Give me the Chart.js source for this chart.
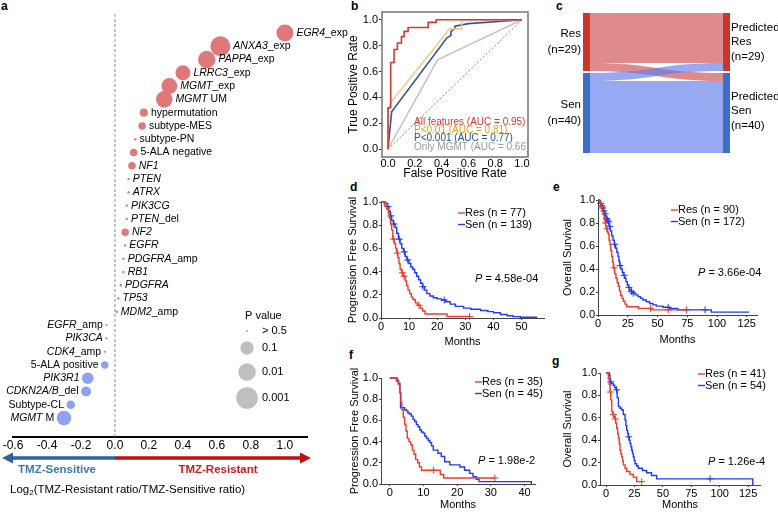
<!DOCTYPE html>
<html>
<head>
<meta charset="utf-8">
<script src="https://cdn.jsdelivr.net/npm/chart.js@4.4.0/dist/chart.umd.min.js"></script>
<style>
  body { margin: 0; width: 778px; height: 512px; position: relative; background: #fff; overflow: hidden;
         font-family: 'Liberation Sans', Arial, Helvetica, sans-serif; }
  canvas { position: absolute; }
  .lab { position: absolute; font-weight: bold; font-size: 12px; line-height: 12px; }
</style>
</head>
<body>
<div class="lab" style="left:1px;top:0px">a</div>
<div class="lab" style="left:351px;top:0px">b</div>
<div class="lab" style="left:556px;top:0px">c</div>
<div class="lab" style="left:350px;top:181px">d</div>
<div class="lab" style="left:553px;top:181px">e</div>
<div class="lab" style="left:349px;top:349px">f</div>
<div class="lab" style="left:552px;top:355px">g</div>

<canvas id="cA"></canvas>
<canvas id="cB"></canvas>
<canvas id="cC"></canvas>
<canvas id="cD"></canvas>
<canvas id="cE"></canvas>
<canvas id="cF"></canvas>
<canvas id="cG"></canvas>

<script>
// ---- panel a: features (top to bottom), log2 ratio and p value ----
const featLabels = ['*EGR4*_exp', '*ANXA3*_exp', '*PAPPA*_exp', '*LRRC3*_exp', '*MGMT*_exp', '*MGMT* UM',
  'hypermutation', 'subtype-MES', 'subtype-PN', '5-ALA negative', '*NF1*', '*PTEN*', '*ATRX*', '*PIK3CG*',
  '*PTEN*_del', '*NF2*', '*EGFR*', '*PDGFRA*_amp', '*RB1*', '*PDGFRA*', '*TP53*', '*MDM2*_amp',
  '*EGFR*_amp', '*PIK3CA*', '*CDK4*_amp', '5-ALA positive', '*PIK3R1*', '*CDKN2A/B*_del', 'Subtype-CL', '*MGMT* M'];
const featLog2Ratio = [1.0, 0.62, 0.54, 0.40, 0.32, 0.29, 0.17, 0.16, 0.12, 0.11, 0.10, 0.08, 0.08, 0.07,
  0.07, 0.06, 0.06, 0.05, 0.05, 0.035, 0.02, 0.01, -0.05, -0.05, -0.06, -0.06, -0.16, -0.17, -0.26, -0.30];
const featPValue = [0.014, 0.0025, 0.011, 0.042, 0.024, 0.017, 0.21, 0.23, 0.8, 0.23, 0.23, 0.9, 0.9, 0.9,
  0.9, 0.23, 0.9, 0.9, 0.9, 0.9, 0.9, 0.9, 0.9, 0.9, 0.9, 0.23, 0.13, 0.16, 0.2, 0.052];
const aTicks = [-0.6, -0.4, -0.2, 0, 0.2, 0.4, 0.6, 0.8, 1.0];
const pLegendLabels = ['> 0.5', '0.1', '0.01', '0.001'];
const pLegendValues = [0.9, 0.1, 0.01, 0.001];

// ---- panel b: ROC curves ----
const rocAllFpr = [0, 0, 0.02, 0.02, 0.045, 0.045, 0.07, 0.07, 0.1, 0.1, 0.12, 0.12, 0.15, 0.15, 0.30, 0.30, 0.36, 0.36, 1];
const rocAllTpr = [0, 0.32, 0.32, 0.67, 0.67, 0.77, 0.77, 0.82, 0.82, 0.87, 0.87, 0.91, 0.91, 0.94, 0.94, 0.98, 0.98, 1, 1];
const rocP01Fpr = [0, 0, 0.02, 0.46, 0.55, 0.55, 1];
const rocP01Tpr = [0, 0.30, 0.36, 0.93, 0.93, 1, 1];
const rocP001Fpr = [0, 0.027, 0.44, 0.47, 0.47, 0.50, 0.50, 0.60, 1];
const rocP001Tpr = [0, 0.29, 0.86, 0.88, 0.91, 0.93, 0.95, 0.97, 1];
const rocMgmtFpr = [0, 0.37, 1];
const rocMgmtTpr = [0, 0.69, 1];
const rocLegend = ['All features (AUC = 0.95)', 'P<0.01 (AUC = 0.81)', 'P<0.001 (AUC = 0.77)', 'Only MGMT (AUC = 0.66)'];
const rateTicks = [0, 0.2, 0.4, 0.6, 0.8, 1.0];

// ---- panel c: sankey ----
const sankeyLeft = ['Res', 'Sen'];
const sankeyLeftN = [29, 40];
const sankeyRight = ['Predicted', 'Predicted'];
const sankeyRightSub = ['Res', 'Sen'];
const sankeyRightN = [29, 40];
const sankeyFlows = [[0, 0, 25], [0, 1, 4], [1, 0, 4], [1, 1, 36]];

// ---- panel d: PFS ----
const dResT = [0, 1.2, 2.0, 2.6, 3.0, 3.4, 3.8, 4.2, 4.7, 5.2, 5.6, 6.0, 6.4, 6.8, 7.3, 7.9, 8.6, 9.1, 9.6, 10.2, 10.8, 11.4, 12.2, 13.0, 13.9, 14.8, 15.7, 23.5, 31.5];
const dResS = [1, 0.97, 0.94, 0.90, 0.86, 0.81, 0.76, 0.68, 0.64, 0.60, 0.56, 0.52, 0.47, 0.42, 0.39, 0.36, 0.32, 0.28, 0.24, 0.21, 0.18, 0.16, 0.13, 0.11, 0.085, 0.06, 0.035, 0.013, 0.013];
const dResCT = [4.4, 5.8, 7.6, 8.2, 13.5, 31.5];
const dResCS = [0.68, 0.56, 0.39, 0.36, 0.11, 0.013];
const dSenT = [0, 1.5, 2.2, 2.8, 3.3, 3.8, 4.4, 5.0, 5.6, 6.2, 6.8, 7.4, 8.0, 8.6, 9.2, 9.9, 10.6, 11.3, 12.0, 12.7, 13.4, 14.1, 14.8, 15.5, 16.3, 17.4, 18.6, 20.0, 21.5, 23.0, 24.6, 26.5, 29.4, 32.0, 35.4, 38.0, 40.0, 42.5, 44.9, 47.0, 49.6, 55.6];
const dSenS = [1, 0.99, 0.96, 0.92, 0.88, 0.84, 0.81, 0.78, 0.73, 0.68, 0.64, 0.60, 0.57, 0.53, 0.50, 0.47, 0.44, 0.42, 0.39, 0.36, 0.33, 0.30, 0.27, 0.24, 0.21, 0.19, 0.175, 0.165, 0.155, 0.14, 0.12, 0.10, 0.085, 0.075, 0.065, 0.055, 0.045, 0.03, 0.02, 0.012, 0.006, 0.006];
const dSenCT = [2.5, 3.5, 4.6, 6.5, 8.3, 9.5, 14.9, 22.5];
const dSenCS = [0.96, 0.88, 0.81, 0.68, 0.57, 0.50, 0.27, 0.155];

// ---- panel e: OS ----
const eResT = [0, 1.5, 2.5, 3.1, 3.8, 4.5, 5.2, 5.9, 6.6, 7.3, 8.0, 8.7, 9.3, 10.0, 10.7, 11.5, 12.2, 12.9, 14.0, 15.1, 16.1, 17.1, 18.0, 19.0, 20.2, 21.3, 22.7, 24.1, 33.9, 45, 74.5];
const eResS = [1, 0.98, 0.96, 0.94, 0.90, 0.87, 0.83, 0.80, 0.77, 0.75, 0.72, 0.70, 0.65, 0.61, 0.56, 0.51, 0.46, 0.41, 0.36, 0.32, 0.28, 0.25, 0.21, 0.17, 0.145, 0.12, 0.095, 0.072, 0.058, 0.045, 0.045];
const eResCT = [3.5, 6.2, 7.5, 13.5, 44, 59, 74.5];
const eResCS = [0.94, 0.80, 0.75, 0.41, 0.058, 0.045, 0.045];
const eSenT = [0, 1.0, 1.9, 2.8, 3.6, 4.6, 5.6, 6.3, 7.0, 7.7, 8.4, 9.4, 10.4, 11.5, 12.6, 13.7, 14.8, 15.8, 16.8, 17.5, 18.2, 19.3, 20.4, 21.4, 22.4, 23.5, 24.6, 25.6, 26.6, 27.8, 28.9, 31.2, 33.6, 35.7, 37.8, 40.6, 43.4, 46.2, 49.0, 54.6, 60.2, 67, 95.2, 127];
const eSenS = [1, 0.985, 0.97, 0.95, 0.93, 0.905, 0.88, 0.86, 0.84, 0.825, 0.81, 0.77, 0.73, 0.69, 0.65, 0.615, 0.58, 0.545, 0.51, 0.47, 0.43, 0.40, 0.37, 0.345, 0.32, 0.29, 0.26, 0.24, 0.22, 0.205, 0.19, 0.175, 0.16, 0.145, 0.13, 0.115, 0.10, 0.088, 0.077, 0.067, 0.058, 0.045, 0.025, 0.025];
const eSenCT = [2.2, 3.0, 4.0, 5.0, 6.0, 7.3, 8.0, 9.0, 10.0, 14.0, 18.5, 22.0, 26.0, 28.0, 29.5, 59, 90];
const eSenCS = [0.97, 0.95, 0.93, 0.905, 0.88, 0.84, 0.825, 0.81, 0.77, 0.615, 0.43, 0.345, 0.24, 0.205, 0.19, 0.067, 0.045];

// ---- panel f: PFS validation ----
const fResT = [0, 2.0, 2.5, 3.0, 3.3, 3.6, 4.0, 4.4, 4.8, 5.2, 5.7, 6.2, 6.7, 7.2, 7.7, 8.3, 8.8, 9.4, 15.0, 16.0, 31.2];
const fResS = [1, 0.97, 0.94, 0.86, 0.77, 0.70, 0.63, 0.56, 0.50, 0.43, 0.40, 0.37, 0.32, 0.28, 0.23, 0.20, 0.16, 0.13, 0.09, 0.057, 0.057];
const fResCT = [13.0, 31.2];
const fResCS = [0.13, 0.057];
const fSenT = [0, 2.2, 2.6, 3.0, 3.2, 4.4, 4.9, 5.4, 5.9, 6.4, 6.9, 7.4, 7.9, 8.4, 8.9, 9.4, 9.9, 10.4, 10.9, 11.4, 11.9, 12.4, 12.9, 14.3, 15.3, 16.3, 17.8, 20.8, 22.2, 23.7, 24.7, 25.7, 26.5, 42];
const fSenS = [1, 0.98, 0.95, 0.86, 0.72, 0.70, 0.69, 0.67, 0.66, 0.64, 0.61, 0.59, 0.56, 0.54, 0.51, 0.49, 0.48, 0.45, 0.43, 0.41, 0.39, 0.36, 0.32, 0.29, 0.26, 0.21, 0.18, 0.16, 0.13, 0.10, 0.07, 0.045, 0.022, 0];
const fSenCT = [];
const fSenCS = [];

// ---- panel g: OS validation ----
const gResT = [0, 2.0, 2.8, 3.5, 4.2, 5.0, 5.8, 6.8, 7.9, 8.6, 9.4, 10.2, 10.9, 11.6, 12.3, 13.0, 13.8, 14.5, 15.2, 16.7, 18.2, 21, 24, 27, 31.4];
const gResS = [1, 0.95, 0.90, 0.83, 0.76, 0.66, 0.63, 0.61, 0.59, 0.55, 0.505, 0.46, 0.42, 0.37, 0.31, 0.28, 0.25, 0.215, 0.18, 0.15, 0.12, 0.095, 0.07, 0.03, 0.03];
const gResCT = [3.8, 6.3, 8.2, 31.4];
const gResCS = [0.83, 0.63, 0.59, 0.03];
const gSenT = [0, 3.0, 3.5, 5.0, 6.4, 7.6, 8.8, 9.8, 10.9, 12.3, 13.8, 15.2, 16.7, 17.5, 18.2, 19.0, 19.6, 20.4, 21.1, 21.9, 22.6, 23.3, 24.0, 24.8, 25.5, 27.0, 28.4, 32, 35.7, 40, 44.5, 129];
const gSenS = [1, 0.98, 0.92, 0.905, 0.89, 0.87, 0.85, 0.78, 0.70, 0.685, 0.67, 0.63, 0.58, 0.53, 0.49, 0.46, 0.43, 0.40, 0.37, 0.34, 0.31, 0.28, 0.25, 0.22, 0.19, 0.17, 0.15, 0.13, 0.11, 0.085, 0.055, 0];
const gSenCT = [4.2, 9.3, 20.0, 91.5];
const gSenCS = [0.92, 0.85, 0.43, 0.055];

const survTicks = [0, 0.2, 0.4, 0.6, 0.8, 1.0];

// ---------------------------------------------------------------
const FONT = "'Liberation Sans', Arial, Helvetica, sans-serif";
Chart.defaults.font.family = FONT;
Chart.defaults.font.size = 11;
Chart.defaults.color = '#000';
Chart.defaults.animation = false;
Chart.defaults.responsive = false;
Chart.defaults.events = [];
Chart.defaults.plugins.legend.display = false;
Chart.defaults.plugins.tooltip.enabled = false;

const RED = '#ec3d2a';
const BLUE = '#1e3cf5';

function place(id, l, t, r, b) {
    const c = document.getElementById(id);
    c.width = r - l;
    c.height = b - t;
    c.style.left = l + 'px';
    c.style.top = t + 'px';
    c.style.width = (r - l) + 'px';
    c.style.height = (b - t) + 'px';
    return c;
}

function fixTicks(vals) {
    return scale => { scale.ticks = vals.map(v => ({ value: v })); };
}

function pts(xs, ys) {
    return xs.map((x, i) => ({ x: x, y: ys[i] }));
}

// text with *italic* segments
function richText(ctx, str, x, y, align, font) {
    const parts = str.split('*');
    const fonts = parts.map((p, i) => (i % 2 ? 'italic ' : '') + font);
    const widths = parts.map((p, i) => { ctx.font = fonts[i]; return ctx.measureText(p).width; });
    const total = widths.reduce((a, b) => a + b, 0);
    let cx = align === 'right' ? x - total : (align === 'center' ? x - total / 2 : x);
    ctx.textAlign = 'left';
    parts.forEach((p, i) => { ctx.font = fonts[i]; ctx.fillText(p, cx, y); cx += widths[i]; });
}

// bubble radius from p value, anchored on the legend sizes
const sizeKnots = [[0.3, 1], [1, 6.7], [2, 8.8], [3, 10.8]];
function bubbleR(p) {
    const L = -Math.log10(p);
    if (L < 0.3) return 1.2;
    for (let i = 1; i < sizeKnots.length; i++) {
        if (L <= sizeKnots[i][0]) {
            const [l0, r0] = sizeKnots[i - 1], [l1, r1] = sizeKnots[i];
            return r0 + (r1 - r0) * (L - l0) / (l1 - l0);
        }
    }
    return sizeKnots[sizeKnots.length - 1][1];
}

// ===== Panel a =====
const BUB_RED = '#e0787a';
const BUB_BLUE = '#8ea2f0';

const bubbleExtras = {
    id: 'bubbleExtras',
    beforeDatasetsDraw(chart) {
        const { ctx, chartArea, scales: { x } } = chart;
        const x0 = x.getPixelForValue(0);
        ctx.save();
        ctx.strokeStyle = '#8a8a8a';
        ctx.lineWidth = 1;
        ctx.setLineDash([3, 2]);
        ctx.beginPath();
        ctx.moveTo(x0, chartArea.top);
        ctx.lineTo(x0, chartArea.bottom);
        ctx.stroke();
        ctx.restore();
    },
    afterDraw(chart) {
        const { ctx, chartArea, scales: { x } } = chart;
        const meta = chart.getDatasetMeta(0);
        ctx.save();
        ctx.fillStyle = '#000';
        ctx.textBaseline = 'middle';
        meta.data.forEach((el, i) => {
            const r = bubbleR(featPValue[i]);
            if (featLog2Ratio[i] >= 0) {
                richText(ctx, featLabels[i], el.x + r + 3, el.y, 'left', '10.5px ' + FONT);
            } else {
                richText(ctx, featLabels[i], el.x - r - 2.5, el.y, 'right', '10.5px ' + FONT);
            }
        });

        // size legend
        ctx.font = '11px ' + FONT;
        ctx.textAlign = 'left';
        ctx.fillText('P value', 245, 316);
        const ly = [331, 348, 372, 398];
        pLegendValues.forEach((p, i) => {
            ctx.fillStyle = '#bfbfbf';
            ctx.beginPath();
            ctx.arc(247, ly[i], bubbleR(p), 0, Math.PI * 2);
            ctx.fill();
            ctx.fillStyle = '#000';
            ctx.fillText(pLegendLabels[i], 262, ly[i]);
        });

        // direction arrows
        const x0 = x.getPixelForValue(0);
        const ay = 458;
        function arrow(from, to, col) {
            const dir = Math.sign(to - from);
            ctx.strokeStyle = col;
            ctx.fillStyle = col;
            ctx.lineWidth = 3.5;
            ctx.beginPath();
            ctx.moveTo(from, ay);
            ctx.lineTo(to - dir * 8, ay);
            ctx.stroke();
            ctx.beginPath();
            ctx.moveTo(to, ay);
            ctx.lineTo(to - dir * 11, ay - 5.5);
            ctx.lineTo(to - dir * 11, ay + 5.5);
            ctx.closePath();
            ctx.fill();
        }
        arrow(x0, chartArea.left - 11, '#2d6397');
        arrow(x0, chartArea.right + 4, '#c40d0d');

        ctx.font = 'bold 11.5px ' + FONT;
        ctx.textAlign = 'center';
        ctx.fillStyle = '#3b78b5';
        ctx.fillText('TMZ-Sensitive', 57, 470);
        ctx.fillStyle = '#d4191c';
        ctx.fillText('TMZ-Resistant', 218, 470);

        ctx.fillStyle = '#000';
        ctx.textAlign = 'left';
        ctx.font = '11.5px ' + FONT;
        let tx = 10;
        ctx.fillText('Log', tx, 490);
        tx += ctx.measureText('Log').width;
        ctx.font = '8px ' + FONT;
        ctx.fillText('2', tx, 493);
        tx += ctx.measureText('2').width;
        ctx.font = '11.5px ' + FONT;
        ctx.fillText('(TMZ-Resistant ratio/TMZ-Sensitive ratio)', tx, 490);
        ctx.restore();
    }
};

new Chart(place('cA', 0, 0, 366, 512), {
    type: 'bubble',
    data: {
        datasets: [{
            data: featLog2Ratio.map((v, i) => ({ x: v, y: i, r: bubbleR(featPValue[i]) })),
            backgroundColor: featLog2Ratio.map(v => v >= 0 ? BUB_RED : BUB_BLUE),
            borderWidth: 0,
            clip: false
        }]
    },
    options: {
        layout: { padding: { left: 13, right: 59, top: 14, bottom: 0 } },
        scales: {
            x: {
                type: 'linear', min: -0.6, max: 1.13,
                afterBuildTicks: fixTicks(aTicks),
                afterFit: s => { s.height = 75; },
                ticks: { font: { size: 12 }, padding: 1, maxRotation: 0, autoSkip: false, callback: v => v.toFixed(1) },
                grid: { display: false, drawTicks: false },
                border: { display: true, color: '#000', width: 2 }
            },
            y: { type: 'linear', min: -1.43, max: 30.43, reverse: true, display: false }
        }
    },
    plugins: [bubbleExtras]
});

// ===== Panel b =====
const rocExtras = {
    id: 'rocExtras',
    afterDraw(chart, args, o) {
        const { ctx, chartArea } = chart;
        ctx.save();
        ctx.strokeStyle = '#8a8a8a';
        ctx.lineWidth = 1.8;
        ctx.strokeRect(chartArea.left, chartArea.top, chartArea.right - chartArea.left, chartArea.bottom - chartArea.top);
        ctx.font = '10px ' + FONT;
        ctx.textBaseline = 'middle';
        ctx.textAlign = 'left';
        const cols = ['#d6372c', '#d9a21b', '#2a4d9a', '#9a9a9a'];
        rocLegend.forEach((t, i) => {
            ctx.fillStyle = cols[i];
            ctx.fillText(t, 414 - o.ox, 122 + i * 8.3 - o.oy);
        });
        ctx.restore();
    }
};

function rocLine(fx, ty, col, w) {
    return { data: pts(fx, ty), borderColor: col, borderWidth: w, pointRadius: 0, clip: false };
}

new Chart(place('cB', 346, 0, 548, 181), {
    type: 'line',
    data: {
        datasets: [
            rocLine(rocAllFpr, rocAllTpr, '#cd3b33', 1.6),
            rocLine(rocP01Fpr, rocP01Tpr, '#f3c98b', 1.6),
            rocLine(rocP001Fpr, rocP001Tpr, '#2f55a4', 1.6),
            rocLine(rocMgmtFpr, rocMgmtTpr, '#c4c4c4', 1.6),
            Object.assign(rocLine([0, 1], [0, 1], '#555', 0.7), { borderDash: [2, 2] })
        ]
    },
    options: {
        layout: { padding: { left: 0, top: 12, right: 20, bottom: 0 } },
        scales: {
            x: {
                type: 'linear', min: -0.045, max: 1.045,
                afterBuildTicks: fixTicks(rateTicks),
                afterFit: s => { s.height = 24; },
                ticks: { padding: 0, maxRotation: 0, autoSkip: false, callback: v => v.toFixed(1) },
                grid: { display: true, drawOnChartArea: false, drawTicks: false },
                border: { display: false },
                title: { display: true, text: 'False Positive Rate', font: { size: 12 }, padding: 0 }
            },
            y: {
                type: 'linear', min: -0.06, max: 1.06,
                afterBuildTicks: fixTicks(rateTicks),
                afterFit: s => { s.width = 36; },
                ticks: { padding: 1, autoSkip: false, callback: v => v.toFixed(1) },
                grid: { display: true, drawOnChartArea: false, tickLength: 3, color: '#333' },
                border: { display: false },
                title: { display: true, text: 'True Positive Rate', font: { size: 12 }, padding: 0 }
            }
        },
        plugins: { rocExtras: { ox: 346, oy: 0 } }
    },
    plugins: [rocExtras]
});

// ===== Panel c =====
const NODE_W = 0.048;
const sankeyPlugin = {
    id: 'sankey',
    afterDraw(chart, args, o) {
        const { ctx, scales: { x, y } } = chart;
        const gap = 1;
        let pos = 0;
        const leftNodes = sankeyLeftN.map(n => { const s = { a: pos, b: pos + n }; pos += n + gap; return s; });
        pos = 0;
        const rightNodes = sankeyRightN.map(n => { const s = { a: pos, b: pos + n }; pos += n + gap; return s; });
        const lc = leftNodes.map(n => n.a);
        const rc = rightNodes.map(n => n.a);
        const xL = x.getPixelForValue(NODE_W), xR = x.getPixelForValue(1 - NODE_W);
        const mid = (xL + xR) / 2;
        ctx.save();
        sankeyFlows.forEach(([s, d, v]) => {
            const l0 = y.getPixelForValue(lc[s]), l1 = y.getPixelForValue(lc[s] + v);
            const r0 = y.getPixelForValue(rc[d]), r1 = y.getPixelForValue(rc[d] + v);
            lc[s] += v;
            rc[d] += v;
            ctx.fillStyle = s === 0 ? 'rgba(200,55,55,0.58)' : 'rgba(95,125,235,0.66)';
            ctx.beginPath();
            ctx.moveTo(xL, l0);
            ctx.bezierCurveTo(mid, l0, mid, r0, xR, r0);
            ctx.lineTo(xR, r1);
            ctx.bezierCurveTo(mid, r1, mid, l1, xL, l1);
            ctx.closePath();
            ctx.fill();
        });
        const nodeCols = ['#c9372c', '#3e6fc6'];
        leftNodes.forEach((n, i) => {
            ctx.fillStyle = nodeCols[i];
            ctx.fillRect(x.getPixelForValue(0), y.getPixelForValue(n.a), xL - x.getPixelForValue(0), y.getPixelForValue(n.b) - y.getPixelForValue(n.a));
        });
        rightNodes.forEach((n, i) => {
            ctx.fillStyle = nodeCols[i];
            ctx.fillRect(xR, y.getPixelForValue(n.a), x.getPixelForValue(1) - xR, y.getPixelForValue(n.b) - y.getPixelForValue(n.a));
        });
        ctx.fillStyle = '#000';
        ctx.font = '11.5px ' + FONT;
        ctx.textBaseline = 'middle';
        ctx.textAlign = 'right';
        leftNodes.forEach((n, i) => {
            const c = (y.getPixelForValue(n.a) + y.getPixelForValue(n.b)) / 2;
            ctx.fillText(sankeyLeft[i], x.getPixelForValue(0) - 2, c - 8);
            ctx.fillText('(n=' + sankeyLeftN[i] + ')', x.getPixelForValue(0) - 2, c + 8);
        });
        ctx.textAlign = 'left';
        rightNodes.forEach((n, i) => {
            const c = (y.getPixelForValue(n.a) + y.getPixelForValue(n.b)) / 2 - (i ? 2 : 0);
            const tx = x.getPixelForValue(1) + 1;
            ctx.fillText(sankeyRight[i], tx, c - 14.5);
            ctx.fillText(sankeyRightSub[i], tx, c);
            ctx.fillText('(n=' + sankeyRightN[i] + ')', tx, c + 14.5);
        });
        ctx.restore();
    }
};

new Chart(place('cC', 530, 0, 778, 170), {
    type: 'scatter',
    data: { datasets: [] },
    options: {
        layout: { padding: { left: 53, right: 48, top: 13, bottom: 17 } },
        scales: {
            x: { type: 'linear', min: 0, max: 1, display: false },
            y: { type: 'linear', min: 0, max: 70, reverse: true, display: false }
        }
    },
    plugins: [sankeyPlugin]
});

// ===== Panels d-g: Kaplan-Meier =====
const kmNotes = {
    id: 'kmNotes',
    afterDraw(chart, args, o) {
        const ctx = chart.ctx;
        ctx.save();
        ctx.textBaseline = 'middle';
        ctx.textAlign = 'left';
        ctx.font = '11px ' + FONT;
        [[o.res, RED, o.ly], [o.sen, BLUE, o.ly + 11.5]].forEach(([t, col, yy]) => {
            ctx.strokeStyle = col;
            ctx.lineWidth = 1.4;
            ctx.beginPath();
            ctx.moveTo(o.lx - o.ox, yy - o.oy);
            ctx.lineTo(o.lx + 7 - o.ox, yy - o.oy);
            ctx.stroke();
            ctx.fillStyle = '#000';
            ctx.fillText(t, o.lx + 7 - o.ox, yy - o.oy);
        });
        ctx.font = 'italic 11px ' + FONT;
        ctx.fillText('P', o.px - o.ox, o.py - o.oy);
        const w = ctx.measureText('P').width;
        ctx.font = '11px ' + FONT;
        ctx.fillText(' = ' + o.p, o.px - o.ox + w, o.py - o.oy);
        ctx.restore();
    }
};

function kmLine(t, s, col) {
    return { data: pts(t, s), stepped: true, borderColor: col, borderWidth: 1.4, pointRadius: 0, clip: false };
}
function kmCens(t, s, col) {
    return { data: pts(t, s), showLine: false, pointStyle: 'cross', pointRadius: 3.5, borderColor: col,
             backgroundColor: col, pointBorderWidth: 1, borderWidth: 1, clip: false };
}

function kmChart(id, box, area, o) {
    const c = place(id, box[0], box[1], box[2], box[3]);
    return new Chart(c, {
        type: 'line',
        data: {
            datasets: [
                kmLine(o.resT, o.resS, RED),
                kmLine(o.senT, o.senS, BLUE),
                kmCens(o.resCT, o.resCS, RED),
                kmCens(o.senCT, o.senCS, BLUE)
            ]
        },
        options: {
            layout: { padding: { left: 0, top: area[1] - box[1], right: box[2] - area[2], bottom: 0 } },
            scales: {
                x: {
                    type: 'linear', min: o.xmin, max: o.xmax,
                    afterBuildTicks: fixTicks(o.xticks),
                    afterFit: s => { s.height = box[3] - area[3]; },
                    ticks: { padding: 0, maxRotation: 0, autoSkip: false },
                    grid: { display: true, drawOnChartArea: false, tickLength: 2, color: '#444' },
                    border: { display: true, color: '#444', width: 1 },
                    title: { display: true, text: 'Months', font: { size: 11 }, padding: 0 }
                },
                y: {
                    type: 'linear', min: 0, max: 1,
                    afterBuildTicks: fixTicks(survTicks),
                    afterFit: s => { s.width = area[0] - box[0]; },
                    ticks: { padding: 1, autoSkip: false, callback: v => v.toFixed(1) },
                    grid: { display: true, drawOnChartArea: false, tickLength: 2, color: '#444' },
                    border: { display: true, color: '#444', width: 1 },
                    title: { display: true, text: o.ytitle, font: { size: 11 }, padding: 0 }
                }
            },
            plugins: { kmNotes: Object.assign({ ox: box[0], oy: box[1] }, o.notes) }
        },
        plugins: [kmNotes]
    });
}

kmChart('cD', [346, 192, 560, 349], [381, 202, 544, 318], {
    resT: dResT, resS: dResS, resCT: dResCT, resCS: dResCS,
    senT: dSenT, senS: dSenS, senCT: dSenCT, senCS: dSenCS,
    xmin: 0, xmax: 58, xticks: [0, 10, 20, 30, 40, 50], ytitle: 'Progression Free Survival',
    notes: { res: 'Res (n = 77)', sen: 'Sen (n = 139)', lx: 458, ly: 213, p: '4.58e-04', px: 475, py: 279 }
});

kmChart('cE', [561, 190, 778, 347], [598, 200, 757, 315], {
    resT: eResT, resS: eResS, resCT: eResCT, resCS: eResCS,
    senT: eSenT, senS: eSenS, senCT: eSenCT, senCS: eSenCS,
    xmin: 0, xmax: 133.6, xticks: [0, 25, 50, 75, 100, 125], ytitle: 'Overall Survival',
    notes: { res: 'Res (n = 90)', sen: 'Sen (n = 172)', lx: 671, ly: 210, p: '3.66e-04', px: 698, py: 273 }
});

kmChart('cF', [348, 368, 555, 512], [381, 378, 535, 484], {
    resT: fResT, resS: fResS, resCT: fResCT, resCS: fResCS,
    senT: fSenT, senS: fSenS, senCT: fSenCT, senCS: fSenCS,
    xmin: -2.6, xmax: 43.1, xticks: [0, 10, 20, 30, 40], ytitle: 'Progression Free Survival',
    notes: { res: 'Res (n = 35)', sen: 'Sen (n = 45)', lx: 475, ly: 382, p: '1.98e-2', px: 478, py: 461 }
});

kmChart('cG', [561, 362, 778, 512], [600, 373, 760, 485], {
    resT: gResT, resS: gResS, resCT: gResCT, resCS: gResCS,
    senT: gSenT, senS: gSenS, senCT: gSenCT, senCS: gSenCS,
    xmin: -5.3, xmax: 135.4, xticks: [0, 25, 50, 75, 100, 125], ytitle: 'Overall Survival',
    notes: { res: 'Res (n = 41)', sen: 'Sen (n = 54)', lx: 698, ly: 374, p: '1.26e-4', px: 708, py: 462 }
});
</script>
</body>
</html>
